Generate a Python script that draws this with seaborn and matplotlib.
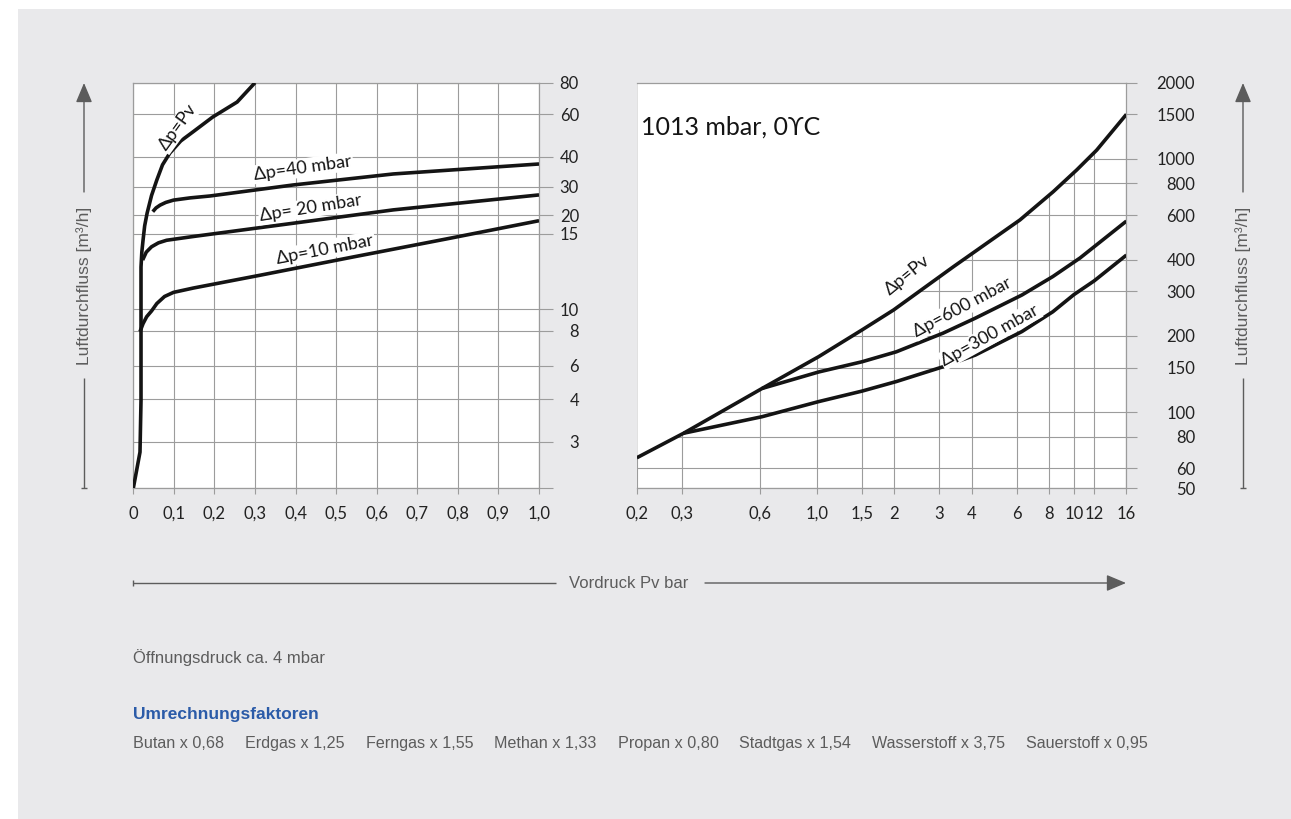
import numpy as np
import pandas as pd
import matplotlib
matplotlib.use("Agg")
import matplotlib.pyplot as plt
from matplotlib.lines import Line2D
from matplotlib.patches import Rectangle, FancyArrowPatch
from matplotlib.ticker import NullLocator
import seaborn as sns

# ---------------------------------------------------------------------------
# Data: left chart, pre-pressure 0 ... 1 bar, air flow in m³/h
# ---------------------------------------------------------------------------
left_pv_x = [0.0, 0.0165, 0.019, 0.019, 0.019, 0.021, 0.024, 0.028, 0.034, 0.045, 0.058, 0.072, 0.090, 0.117, 0.147, 0.196, 0.256, 0.300]
left_pv_q = [2.0, 2.74, 3.97, 8.05, 12.55, 13.6, 14.5, 17.0, 20.6, 26.5, 32.0, 37.0, 41.4, 46.5, 50.7, 58.5, 67.1, 80.0]

left_40_x = [0.048, 0.056, 0.066, 0.080, 0.099, 0.140, 0.189, 0.394, 0.641, 1.0]
left_40_q = [21.05, 22.2, 23.1, 24.0, 24.8, 25.6, 26.3, 30.5, 33.9, 37.3]

left_20_x = [0.023, 0.032, 0.045, 0.062, 0.082, 0.148, 0.394, 0.641, 1.0]
left_20_q = [13.03, 13.6, 14.0, 14.3, 14.5, 14.8, 17.7, 21.6, 26.7]

left_10_x = [0.0165, 0.024, 0.033, 0.045, 0.058, 0.077, 0.099, 0.148, 0.312, 0.542, 0.771, 1.0]
left_10_q = [7.94, 8.6, 9.24, 9.8, 10.3, 10.7, 10.94, 11.2, 12.0, 13.25, 14.6, 18.4]

left_curve_names = ["Δp=Pv", "Δp=40 mbar", "Δp= 20 mbar", "Δp=10 mbar"]

left_x_ticks = [0.0, 0.1, 0.2, 0.3, 0.4, 0.5, 0.6, 0.7, 0.8, 0.9, 1.0]
left_x_labels = ["0", "0,1", "0,2", "0,3", "0,4", "0,5", "0,6", "0,7", "0,8", "0,9", "1,0"]
left_y_ticks = [2, 3, 4, 6, 8, 10, 15, 20, 30, 40, 60, 80]
left_y_labels = ["", "3", "4", "6", "8", "10", "15", "20", "30", "40", "60", "80"]

# ---------------------------------------------------------------------------
# Data: right chart, pre-pressure 0.2 ... 16 bar, air flow in m³/h
# ---------------------------------------------------------------------------
right_pv_x = [0.2, 0.304, 0.614, 1.018, 1.50, 1.99, 3.40, 4.58, 6.17, 8.31, 10.25, 12.26, 16.0]
right_pv_q = [66, 82.5, 124, 165.5, 211, 253, 375, 464, 574, 742, 904, 1083, 1500]

right_600_x = [0.614, 1.018, 1.50, 2.04, 3.10, 4.14, 6.28, 8.28, 10.56, 16.0]
right_600_q = [124, 144, 158, 173, 205, 235, 290, 343, 406, 568]

right_300_x = [0.304, 0.614, 1.018, 1.50, 2.04, 3.10, 4.14, 6.28, 8.28, 10.0, 12.0, 16.0]
right_300_q = [82.5, 95.9, 110, 121, 132, 151, 168, 208, 249, 291, 330, 417]

right_curve_names = ["Δp=Pv", "Δp=600 mbar", "Δp=300 mbar"]

right_x_ticks = [0.2, 0.3, 0.6, 1.0, 1.5, 2, 3, 4, 6, 8, 10, 12, 16]
right_x_labels = ["0,2", "0,3", "0,6", "1,0", "1,5", "2", "3", "4", "6", "8", "10", "12", "16"]
right_y_ticks = [50, 60, 80, 100, 150, 200, 300, 400, 600, 800, 1000, 1500, 2000]
right_y_labels = [str(v) for v in right_y_ticks]

# Conversion factors for other gases
gas_names = ["Butan", "Erdgas", "Ferngas", "Methan", "Propan", "Stadtgas", "Wasserstoff", "Sauerstoff"]
gas_factors = [0.68, 1.25, 1.55, 1.33, 0.80, 1.54, 3.75, 0.95]

# ---------------------------------------------------------------------------
# Style
# ---------------------------------------------------------------------------
sns.set_theme(style="white")
CHART_FONT = ["Lato", "DejaVu Sans"]
NOTE_FONT = ["Liberation Sans", "DejaVu Sans"]
plt.rcParams["font.family"] = CHART_FONT

PANEL = "#e9e9eb"
GRID = "#9c9c9c"
INK = "#141414"
NOTE = "#5c5c5c"
BLUE = "#2b5ba8"
CURVE_LW = 2.6

W, H, DPI = 1291, 819, 100
fig = plt.figure(figsize=(W / DPI, H / DPI), dpi=DPI, facecolor="white")
fig.add_artist(Rectangle((18 / W, 0), 1 - 18 / W, 1 - 9 / H, transform=fig.transFigure,
                         facecolor=PANEL, edgecolor="none", zorder=0))


def fpos(px, py):
    """Figure fraction from pixel position measured from the top-left corner."""
    return px / W, 1 - py / H


def axes_rect(left, top, right, bottom):
    return [left / W, 1 - bottom / H, (right - left) / W, (bottom - top) / H]


ax1 = fig.add_axes(axes_rect(133.3, 82.7, 539.0, 488.3))
ax2 = fig.add_axes(axes_rect(636.8, 82.7, 1126.4, 488.3))

# Nomogram spacing of the left flow axis (height above the 2 m³/h base line)
LEFT_Y_SPACING = [0.0, 46.6, 89.0, 122.3, 157.6, 179.3, 254.3, 273.0, 301.6, 331.6, 374.0, 405.6]
_log_ticks = np.log10(left_y_ticks)


def left_fwd(v):
    v = np.clip(np.asarray(v, dtype=float), left_y_ticks[0] * 0.5, left_y_ticks[-1] * 2)
    return np.interp(np.log10(v), _log_ticks, LEFT_Y_SPACING)


def left_inv(p):
    return 10 ** np.interp(np.asarray(p, dtype=float), LEFT_Y_SPACING, _log_ticks)


def long_table(names, xs, qs):
    return pd.concat([pd.DataFrame({"Pv": x, "Q": q, "curve": n})
                      for n, x, q in zip(names, xs, qs)], ignore_index=True)


left_df = long_table(left_curve_names,
                     [left_pv_x, left_40_x, left_20_x, left_10_x],
                     [left_pv_q, left_40_q, left_20_q, left_10_q])
right_df = long_table(right_curve_names,
                      [right_pv_x, right_600_x, right_300_x],
                      [right_pv_q, right_600_q, right_300_q])

line_kw = dict(units="curve", estimator=None, sort=False, color=INK, lw=CURVE_LW,
               legend=False, zorder=3, solid_joinstyle="round", solid_capstyle="butt")

# ---------------------------------------------------------------------------
# Left chart
# ---------------------------------------------------------------------------
sns.lineplot(data=left_df, x="Pv", y="Q", ax=ax1, **line_kw)
ax1.set_yscale("function", functions=(left_fwd, left_inv))
ax1.set_xlim(0, 1.0)
ax1.set_ylim(left_y_ticks[0], left_y_ticks[-1])

# ---------------------------------------------------------------------------
# Right chart
# ---------------------------------------------------------------------------
ax2.set_xscale("log")
ax2.set_yscale("log")
sns.lineplot(data=right_df, x="Pv", y="Q", ax=ax2, **line_kw)
ax2.set_xlim(right_x_ticks[0], right_x_ticks[-1])
ax2.set_ylim(right_y_ticks[0], right_y_ticks[-1])
# grid only shows below the Δp = Pv limit curve
ax2.fill_between(right_pv_x, right_pv_q, right_y_ticks[-1], color="white", lw=0, zorder=0.8)

for ax, xt, xl, yt, yl, ylen, ypad in [
        (ax1, left_x_ticks, left_x_labels, left_y_ticks, left_y_labels, 10, 18.8),
        (ax2, right_x_ticks, right_x_labels, right_y_ticks, right_y_labels, 8, 41.5)]:
    ax.set_facecolor("white")
    ax.set_xlabel("")
    ax.set_ylabel("")
    ax.set_xticks(xt)
    ax.set_xticklabels(xl)
    ax.set_yticks(yt)
    ax.set_yticklabels(yl)
    ax.xaxis.set_minor_locator(NullLocator())
    ax.yaxis.set_minor_locator(NullLocator())
    ax.yaxis.tick_right()
    ax.tick_params(axis="x", direction="out", length=4.5, width=0.8, color=GRID,
                   labelsize=12, labelcolor="#222222", pad=8, bottom=True)
    ax.tick_params(axis="y", direction="out", length=ylen, width=0.8, color=GRID,
                   labelsize=12, labelcolor="#222222", pad=ypad, right=True, left=False)
    plt.setp(ax.get_yticklabels(), ha="right")
    ax.grid(True, which="major", color=GRID, lw=0.8)
    ax.set_axisbelow(True)
    for side, sp in ax.spines.items():
        sp.set_color(GRID)
        sp.set_linewidth(0.9)
ax2.spines["left"].set_visible(False)

# Curve labels
label_box = dict(facecolor="white", edgecolor="none", pad=1.0)
left_label_pos = [(0.110, 53.1, 54), (0.418, 35.9, 8), (0.438, 22.2, 9), (0.473, 13.8, 11)]
for name, (x, y, rot) in zip(left_curve_names, left_label_pos):
    ax1.text(x, y, name, rotation=rot, rotation_mode="anchor", ha="center", va="center",
             fontsize=13, color=INK, bbox=label_box, zorder=4)

right_label_pos = [(2.24, 348, 39), (3.70, 260, 28), (4.72, 201, 29)]
for name, (x, y, rot) in zip(right_curve_names, right_label_pos):
    ax2.text(x, y, name, rotation=rot, rotation_mode="anchor", ha="center", va="center",
             fontsize=13, color=INK, bbox=label_box, zorder=4)

ax2.text(0.009, 0.891, "1013 mbar, 0ϒC", transform=ax2.transAxes, ha="left", va="center",
         fontsize=18, color=INK)

# ---------------------------------------------------------------------------
# Axis captions with arrows (outside the plotting areas)
# ---------------------------------------------------------------------------
def seg(p0, p1, lw=1.0):
    x0, y0 = fpos(*p0)
    x1, y1 = fpos(*p1)
    fig.add_artist(Line2D([x0, x1], [y0, y1], transform=fig.transFigure,
                          color=NOTE, lw=lw, solid_capstyle="butt"))


def arrow(p0, p1):
    fig.add_artist(FancyArrowPatch(fpos(*p0), fpos(*p1), transform=fig.transFigure,
                                   arrowstyle="-|>,head_length=1.0,head_width=0.42",
                                   mutation_scale=12, color=NOTE, lw=1.0,
                                   shrinkA=0, shrinkB=0))


for xa in (84, 1243):
    arrow((xa, 192), (xa, 83))
    seg((xa, 378), (xa, 488))
    seg((xa - 3, 488), (xa + 3, 488))
    fig.text(*fpos(xa, 286), "Luftdurchfluss [m³/h]", rotation=90, ha="center", va="center",
             fontsize=12.5, color=NOTE, family=NOTE_FONT)

seg((133, 583), (556, 583))
seg((133, 580), (133, 586))
arrow((705, 583), (1126, 583))
fig.text(*fpos(629, 583), "Vordruck Pv bar", ha="center", va="center",
         fontsize=12, color=NOTE, family=NOTE_FONT)

fig.text(*fpos(133, 663), "Öffnungsdruck ca. 4 mbar", ha="left", va="baseline",
         fontsize=12, color=NOTE, family=NOTE_FONT)
fig.text(*fpos(133, 719), "Umrechnungsfaktoren", ha="left", va="baseline",
         fontsize=12.5, fontweight="bold", color=BLUE, family=NOTE_FONT)

renderer = fig.canvas.get_renderer()
x_cursor = 133
for name, factor in zip(gas_names, gas_factors):
    t = fig.text(*fpos(x_cursor, 748), f"{name} x {factor:.2f}".replace(".", ","),
                 ha="left", va="baseline", fontsize=11.6, color=NOTE, family=NOTE_FONT)
    x_cursor = t.get_window_extent(renderer).x1 + 21

fig.savefig("out.png", dpi=DPI, facecolor=fig.get_facecolor())
